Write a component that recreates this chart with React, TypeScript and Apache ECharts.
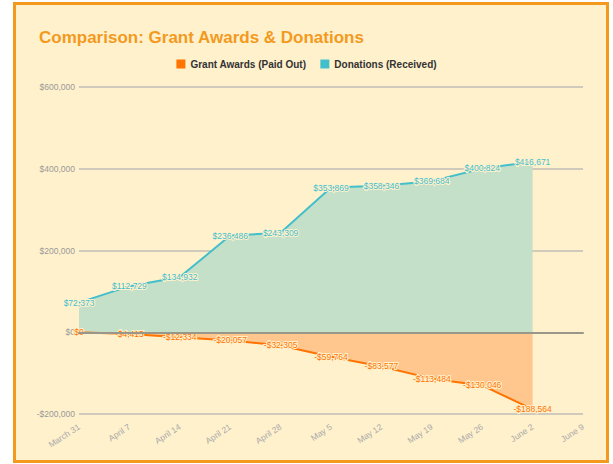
import React, { useEffect, useRef } from "react";
import * as echarts from "echarts";

const categories = [
  "March 31", "April 7", "April 14", "April 21", "April 28", "May 5",
  "May 12", "May 19", "May 26", "June 2", "June 9",
];
const grantAwards = [0, -4415, -12334, -20057, -32305, -59764, -83577, -113484, -130046, -188564];
const donations = [72373, 112729, 134932, 236486, 243309, 353869, 358346, 369684, 400824, 416671];
const seriesNames = ["Grant Awards (Paid Out)", "Donations (Received)"];

const money = (v: number) => (v < 0 ? "-$" : "$") + Math.abs(v).toLocaleString("en-US");

const FONT = "Liberation Sans";

export default function App() {
  const ref = useRef<HTMLDivElement>(null);
  useEffect(() => {
    if (!ref.current) return;
    const chart = echarts.init(ref.current, undefined, { renderer: "svg" });
    chart.setOption({
      animation: false,
      textStyle: { fontFamily: FONT },
      title: {
        text: "Comparison: Grant Awards & Donations",
        left: 34,
        top: 24,
        textStyle: { color: "#f39a1e", fontSize: 17, fontWeight: "bold", fontFamily: FONT },
      },
      legend: {
        top: 54,
        left: "center",
        itemWidth: 9,
        itemHeight: 9,
        itemGap: 14,
        icon: "rect",
        textStyle: { color: "#333", fontSize: 10, fontWeight: "bold", fontFamily: FONT },
        data: [
          { name: seriesNames[0], itemStyle: { color: "#ff7300" } },
          { name: seriesNames[1], itemStyle: { color: "#43bfcc" } },
        ],
      },
      grid: { left: 79, right: 30, top: 87, bottom: 50 },
      xAxis: {
        type: "category",
        data: categories,
        boundaryGap: false,
        z: 5,
        axisLine: { onZero: true, lineStyle: { color: "#99968a", width: 2 } },
        axisTick: { show: false },
        axisLabel: { rotate: 33, color: "#aaa", fontSize: 8.5, fontFamily: FONT, margin: 12 },
        splitLine: { show: false },
      },
      yAxis: {
        type: "value",
        min: -200000,
        max: 600000,
        interval: 200000,
        axisLine: { show: false },
        axisTick: { show: false },
        axisLabel: { color: "#999", fontSize: 8.5, fontFamily: FONT, margin: 4, formatter: (v: number) => money(v) },
        splitLine: { lineStyle: { color: "#cfcabc", width: 2 } },
      },
      series: [
        {
          name: seriesNames[0],
          type: "line",
          data: grantAwards,
          z: 4,
          showSymbol: true,
          symbol: "circle",
          symbolSize: 0,
          lineStyle: { color: "#ff7300", width: 2 },
          itemStyle: { color: "#ff7300" },
          areaStyle: { color: "#ffc78e", opacity: 1 },
          label: {
            show: true,
            position: "inside",
            color: "#ff7300",
            fontSize: 8.5,
            fontFamily: FONT,
            textBorderColor: "#fff1cc",
            textBorderWidth: 2,
            formatter: (p: any) => money(p.value),
          },
        },
        {
          name: seriesNames[1],
          type: "line",
          data: donations,
          z: 2,
          showSymbol: true,
          symbol: "circle",
          symbolSize: 0,
          lineStyle: { color: "#43bfcc", width: 2 },
          itemStyle: { color: "#43bfcc" },
          areaStyle: { color: "#c5e0c9", opacity: 1 },
          label: {
            show: true,
            position: "inside",
            color: "#43bfcc",
            fontSize: 8.5,
            fontFamily: FONT,
            textBorderColor: "#fff1cc",
            textBorderWidth: 2,
            formatter: (p: any) => money(p.value),
          },
        },
      ],
    });
    return () => chart.dispose();
  }, []);
  return (
    <div style={{ position: "fixed", left: 0, top: 0, width: 613, height: 464 }}>
      <div
        style={{
          position: "absolute",
          left: 13,
          top: 2,
          width: 596,
          height: 461,
          boxSizing: "border-box",
          border: "3px solid #f39a1e",
          background: "#fff1cc",
        }}
      />
      <div ref={ref} style={{ position: "absolute", left: 0, top: 0, width: 613, height: 464 }} />
    </div>
  );
}
